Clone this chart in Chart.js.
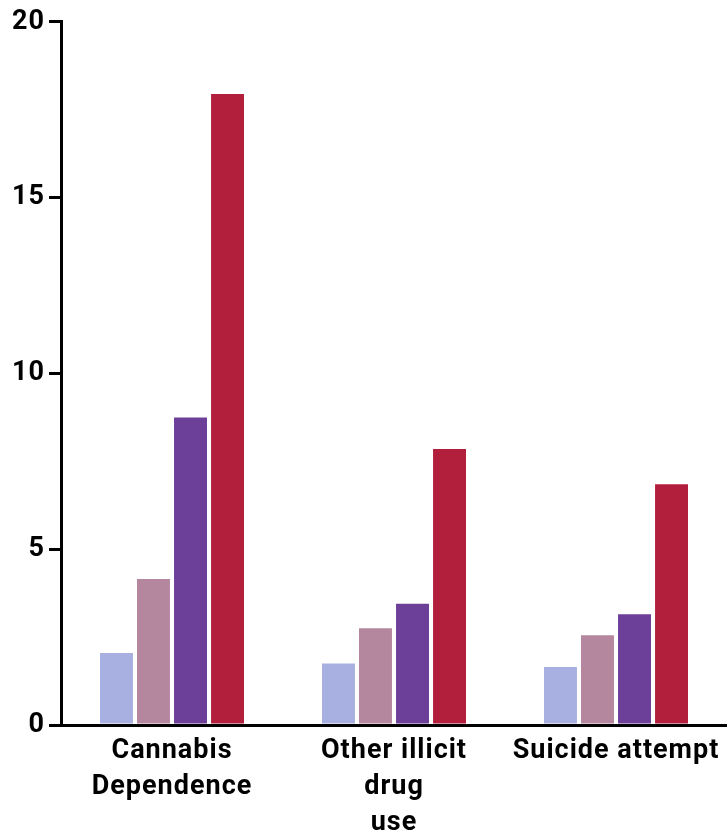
<!doctype html>
<html>
<head>
	<title>Bar Chart</title>
	<script src="https://cdn.jsdelivr.net/npm/chart.js@4/dist/chart.umd.min.js"></script>
	<style>
	body { margin: 0; background: #fff; }
	</style>
</head>
<body>
	<canvas id="canvas" width="727" height="832"></canvas>
	<script>
		const categories = [['Cannabis', 'Dependence'], ['Other illicit', 'drug', 'use'], 'Suicide attempt'];
		const series1 = [2.05, 1.75, 1.65];
		const series2 = [4.15, 2.75, 2.55];
		const series3 = [8.75, 3.45, 3.15];
		const series4 = [17.95, 7.85, 6.85];
		const yTicks = [0, 5, 10, 15, 20];

		const colors = ['#a7b0e0', '#b5879f', '#6c3f98', '#b21f3d'];
		const font = { family: 'Roboto', weight: 'bold', size: 27, lineHeight: 1.33 };

		// slightly wider lettering, like the original labels
		const spacing = {
			id: 'spacing',
			beforeDraw(chart) { chart.ctx.letterSpacing = '1px'; }
		};

		const ctx = document.getElementById('canvas').getContext('2d');
		new Chart(ctx, {
			type: 'bar',
			data: {
				labels: categories,
				datasets: [series1, series2, series3, series4].map((data, i) => ({
					data: data,
					backgroundColor: colors[i],
					borderWidth: 0,
					barPercentage: 0.89,
					categoryPercentage: 0.667
				}))
			},
			plugins: [spacing],
			options: {
				responsive: false,
				animation: false,
				layout: { padding: { top: 20, right: 0, left: 0, bottom: 0 } },
				plugins: {
					legend: { display: false },
					tooltip: { enabled: false }
				},
				scales: {
					x: {
						grid: { display: false },
						border: { display: true, color: '#000', width: 3 },
						ticks: { color: '#000', font: font, padding: 0, maxRotation: 0, autoSkip: false },
						afterFit(scale) { scale.height = 107; }
					},
					y: {
						min: 0,
						max: 20,
						afterBuildTicks(scale) { scale.ticks = yTicks.map(v => ({ value: v })); },
						grid: { drawOnChartArea: false, drawTicks: true, tickLength: 12, lineWidth: 3, color: '#000' },
						border: { display: true, color: '#000', width: 3 },
						ticks: { color: '#000', font: font, padding: 4 },
						afterFit(scale) { scale.width = 61; }
					}
				}
			}
		});
	</script>
</body>
</html>
